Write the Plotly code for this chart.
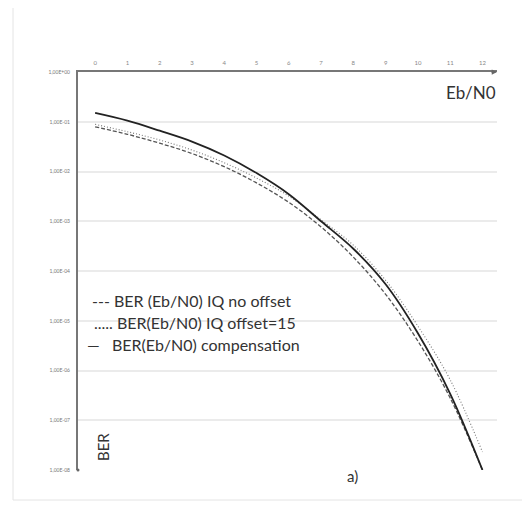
import plotly.graph_objects as go

ebn0 = [0, 1, 2, 3, 4, 5, 6, 7, 8, 9, 10, 11, 12]
ber_no_offset = [7.9e-2, 5.6e-2, 3.7e-2, 2.3e-2, 1.25e-2, 5.9e-3, 2.4e-3, 7.7e-4, 1.9e-4, 3.4e-5, 3.9e-6, 2.8e-7, 1.0e-8]
ber_offset15 = [8.9e-2, 6.3e-2, 4.3e-2, 2.7e-2, 1.5e-2, 7.4e-3, 3.2e-3, 1.07e-3, 3.3e-4, 6.5e-5, 7.8e-6, 6.5e-7, 2.3e-8]
ber_compensation = [1.5e-1, 1.05e-1, 6.6e-2, 4.0e-2, 2.1e-2, 9.3e-3, 3.5e-3, 1.0e-3, 2.8e-4, 5.4e-5, 5.6e-6, 3.4e-7, 1.0e-8]

y_tickvals = [1e0, 1e-1, 1e-2, 1e-3, 1e-4, 1e-5, 1e-6, 1e-7, 1e-8]
y_ticktext = ["1,00E+00", "1,00E-01", "1,00E-02", "1,00E-03", "1,00E-04",
              "1,00E-05", "1,00E-06", "1,00E-07", "1,00E-08"]
x_tickvals = list(range(0, 13))
x_ticktext = [str(v) for v in x_tickvals]

legend_lines = ["---\u00a0BER (Eb/N0) IQ no offset",
                ".....\u00a0BER(Eb/N0) IQ offset=15",
                "\u2014\u00a0\u00a0\u00a0BER(Eb/N0) compensation"]

fig = go.Figure()
fig.add_trace(go.Scatter(x=ebn0, y=ber_no_offset, mode="lines", line_shape="spline",
                         line=dict(color="#555555", width=1.3, dash="4px,2px"), showlegend=False))
fig.add_trace(go.Scatter(x=ebn0, y=ber_offset15, mode="lines", line_shape="spline",
                         line=dict(color="#777777", width=1.1, dash="1px,2px"), showlegend=False))
fig.add_trace(go.Scatter(x=ebn0, y=ber_compensation, mode="lines", line_shape="spline",
                         line=dict(color="#222222", width=1.8), showlegend=False))

L, R, T, B = 78, 29, 72, 36
W, H = 526, 506
pw, ph = W - L - R, H - T - B

def px(xp):
    return (xp - L) / pw

def py(yp):
    return (H - B - yp) / ph

font_main = "Lato, 'Liberation Sans', Arial, sans-serif"

annotations = []
rows = [(90, 300), (92, 322), (85, 344)]
for txt, (x0, y0) in zip(legend_lines, rows):
    annotations.append(dict(text=txt, x=px(x0), y=py(y0), xref="paper", yref="paper",
                            xanchor="left", yanchor="middle", showarrow=False,
                            font=dict(size=16, color="#333333", family=font_main)))
annotations.append(dict(text="Eb/N0", x=px(498), y=py(92), xref="paper", yref="paper",
                        xanchor="right", yanchor="middle", showarrow=False,
                        font=dict(size=17, color="#333333", family=font_main)))
annotations.append(dict(text="BER", x=px(103), y=py(447), xref="paper", yref="paper",
                        xanchor="center", yanchor="middle", showarrow=False, textangle=-90,
                        font=dict(size=15, color="#333333", family=font_main)))
annotations.append(dict(text="a)", x=px(352), y=py(476), xref="paper", yref="paper",
                        xanchor="center", yanchor="middle", showarrow=False,
                        font=dict(size=15, color="#333333", family=font_main)))
annotations.append(dict(text="", x=1.0, y=1.0, xref="paper", yref="paper",
                        showarrow=True, ax=-7, ay=0, arrowhead=2, arrowsize=0.7,
                        arrowwidth=1.5, arrowcolor="#666666"))

shapes = [
    dict(type="line", xref="paper", yref="paper", x0=px(13), x1=px(13), y0=py(8), y1=py(500),
         line=dict(color="#e4e4e4", width=1)),
    dict(type="line", xref="paper", yref="paper", x0=px(13), x1=px(522), y0=py(500), y1=py(500),
         line=dict(color="#e4e4e4", width=1)),
    dict(type="circle", xref="paper", yref="paper", x0=px(76.5), x1=px(79.5), y0=py(468.5), y1=py(471.5),
         fillcolor="#666666", line=dict(width=0)),
]

fig.update_layout(
    width=W, height=H,
    margin=dict(l=L, r=R, t=T, b=B),
    paper_bgcolor="white", plot_bgcolor="white",
    annotations=annotations, shapes=shapes,
    xaxis=dict(side="top", range=[-0.53, 12.45], tickvals=x_tickvals, ticktext=x_ticktext,
               showgrid=False, zeroline=False, showline=True, linecolor="#777777", linewidth=2,
               ticks="", ticklabelstandoff=3,
               tickfont=dict(size=6, color="#888888", family=font_main)),
    yaxis=dict(type="log", range=[-8, 0], tickvals=y_tickvals, ticktext=y_ticktext,
               showgrid=True, gridcolor="#ebebeb", gridwidth=1.5, zeroline=False,
               showline=True, linecolor="#777777", linewidth=2, ticks="", ticklabelstandoff=5,
               tickfont=dict(size=5, color="#777777", family=font_main)),
)

fig.write_html("out.html")
